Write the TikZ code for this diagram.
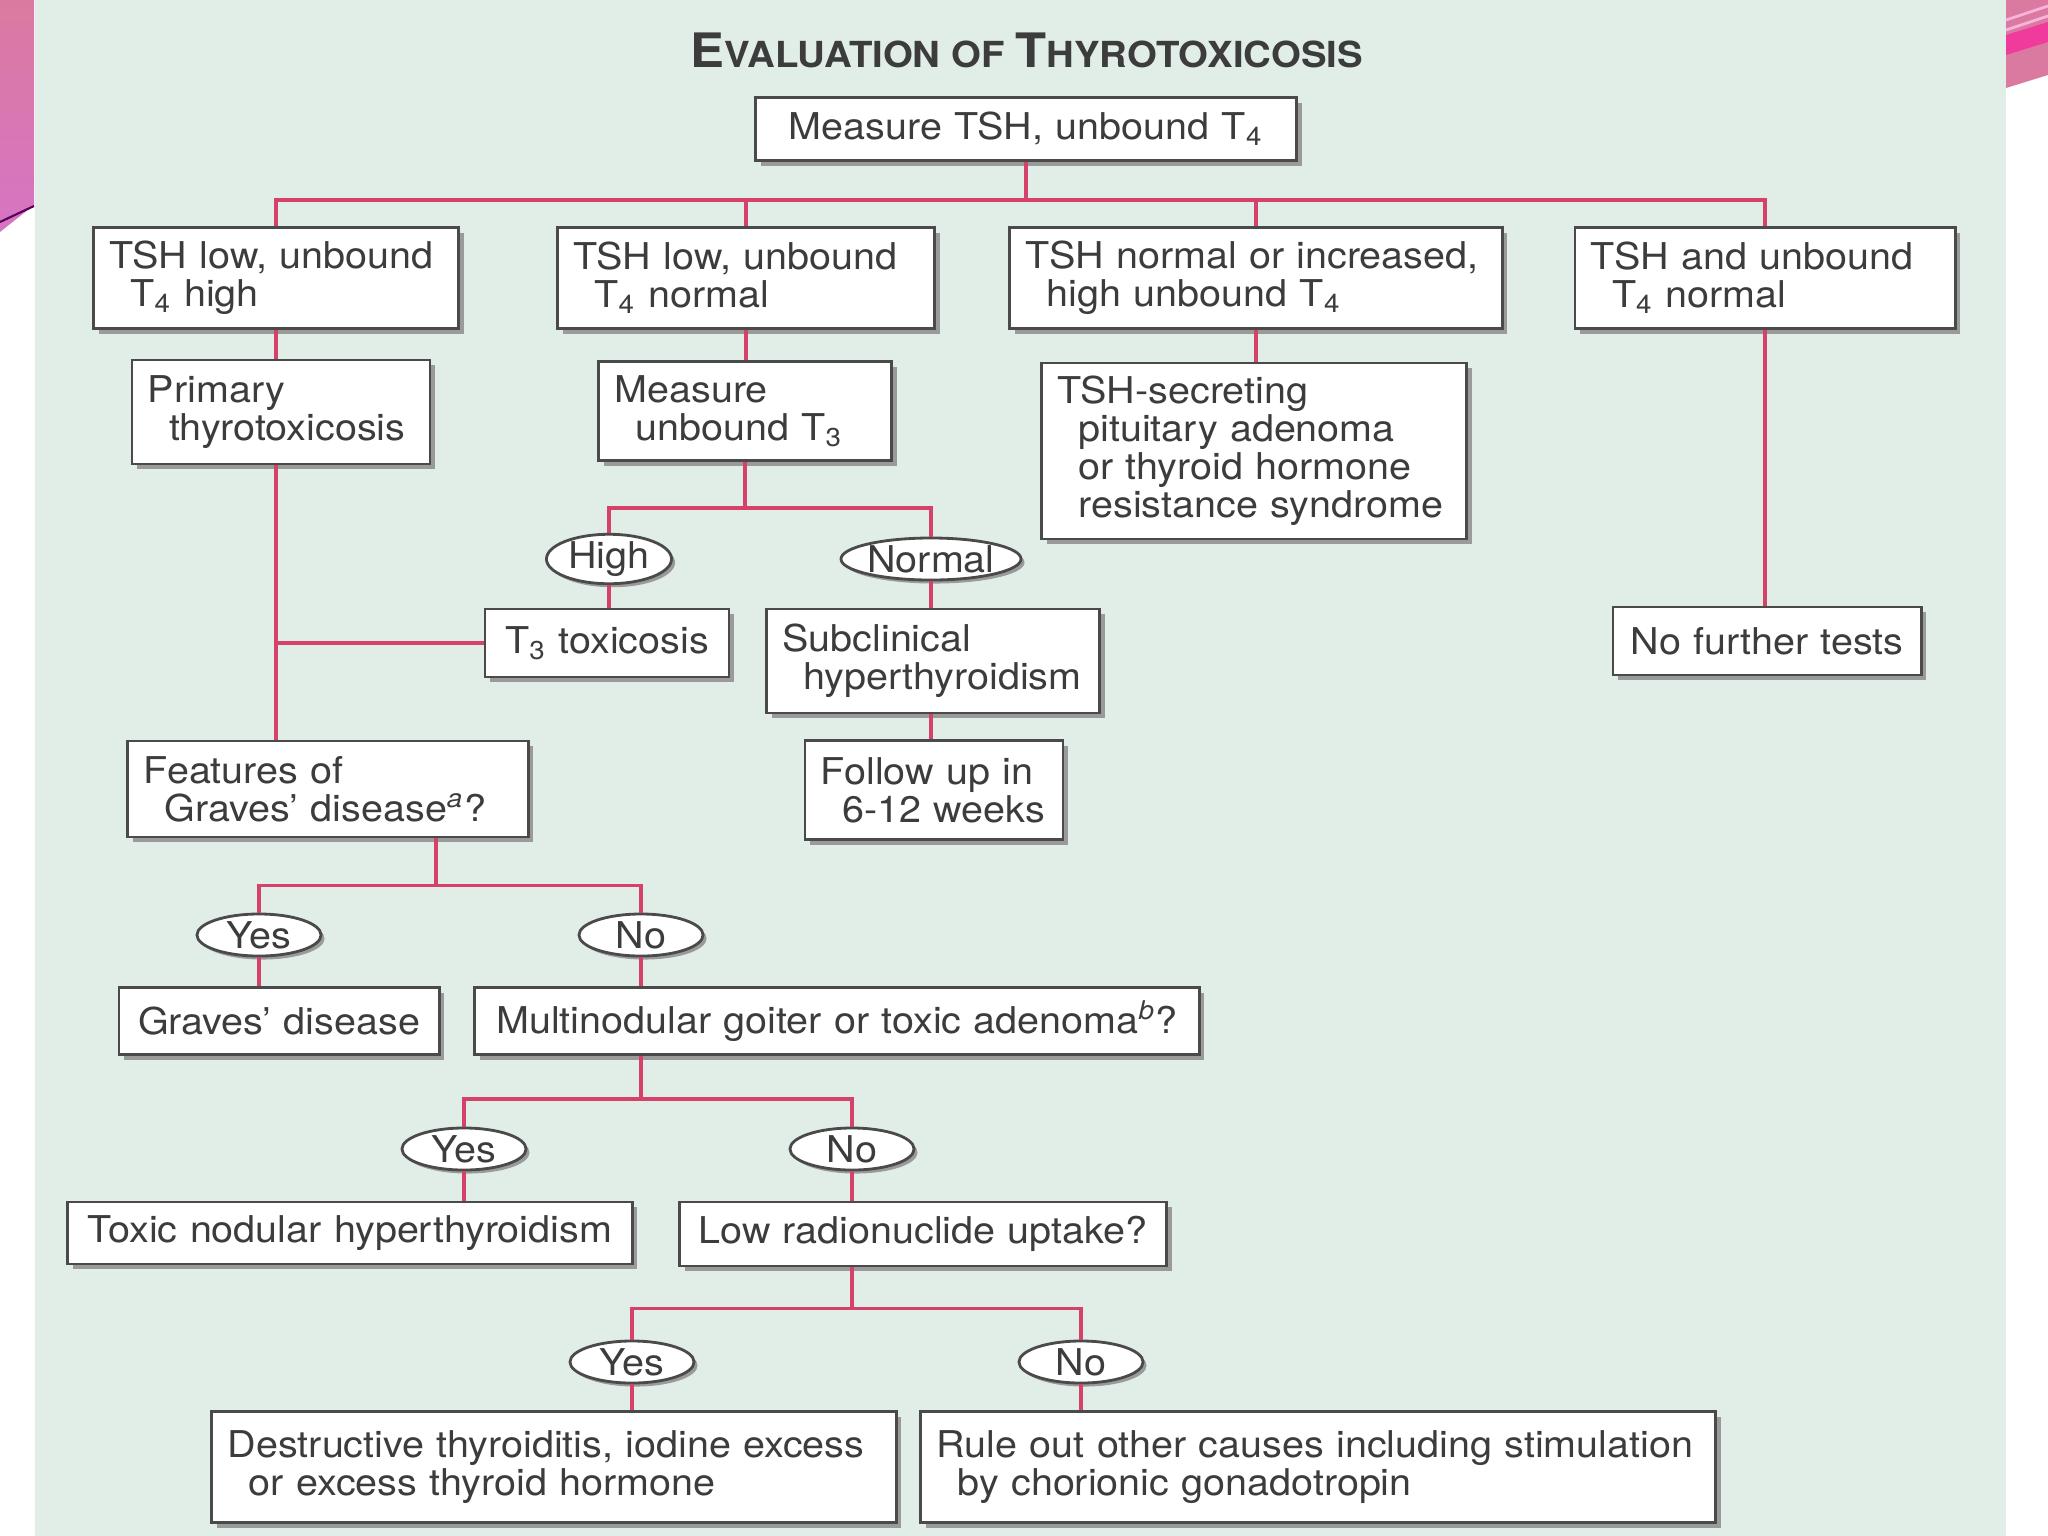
\documentclass[tikz,border=0pt]{standalone}
\usepackage{fontspec}
\setmainfont{TeX Gyre Heros}[FakeStretch=1.07]
\usepackage{tikz}
\usetikzlibrary{shapes.geometric,shadows}

\definecolor{panel}{HTML}{E1EEE7}
\definecolor{linkred}{HTML}{D6416A}
\definecolor{boxline}{HTML}{4A4A4A}
\definecolor{textgray}{HTML}{3C3C3C}
\definecolor{shadowgray}{HTML}{9A9A9A}
\definecolor{slidetop}{HTML}{DB7AA0}
\definecolor{slidebot}{HTML}{D674C4}
\newcommand{\ind}{\hspace*{6pt}}

\begin{document}
\begin{tikzpicture}[x=0.01cm,y=-0.01cm,
                    font=\fontsize{10.5}{10.8}\selectfont\color{textgray},
                    box/.style={draw=boxline,fill=white,line width=0.8pt,align=left,
                                inner xsep=0.16cm,inner ysep=0pt,
                                drop shadow={shadow xshift=1.5pt,shadow yshift=-1.5pt,
                                             fill=shadowgray,opacity=1}},
                    answer/.style={ellipse,draw=boxline,fill=white,line width=0.8pt,
                                   inner sep=0pt,minimum height=0.42cm,minimum width=#1,
                                   drop shadow={shadow xshift=1pt,shadow yshift=-1pt,
                                                fill=shadowgray,opacity=1}},
                    answer/.default=1.24cm,
                    link/.style={draw=linkred,line width=1.1pt}]
  \useasboundingbox (0,0) rectangle (2048,1536);
  \fill[white] (0,0) rectangle (2048,1536);
  \fill[panel] (35,0) rectangle (2006,1536);
  % slide corners
  \shade[top color=slidetop,bottom color=slidebot]
        (0,0) -- (34,0) -- (34,205) -- (0,232) -- cycle;
  \draw[violet!70!black,line width=0.6pt] (34,206) -- (0,222);
  \fill[slidetop] (2006,0) -- (2048,0) -- (2048,75) -- (2006,88) -- cycle;
  \fill[magenta!70!pink] (2006,35) -- (2048,22) -- (2048,42) -- (2006,55) -- cycle;
  \draw[white!70!magenta,line width=0.8pt] (2006,20) -- (2048,6) (2006,30) -- (2048,16);

  \node (title) at (1027,50) {\bfseries\fontsize{13.5}{14}\selectfont E\fontsize{10.2}{11}\selectfont VALUATION OF \fontsize{13.5}{14}\selectfont T\fontsize{10.2}{11}\selectfont HYROTOXICOSIS};

  \node[box,align=center,text width=5.09cm,minimum height=0.63cm] (measure)   at (1026,129)  {Measure TSH, unbound T\textsubscript{4}};

  \node[box,text width=3.33cm,minimum height=1.01cm] (lowhigh)   at (276,278)   {TSH low, unbound\\\ind T\textsubscript{4} high};
  \node[box,text width=3.45cm,minimum height=1.01cm] (lownorm)   at (746,278)   {TSH low, unbound\\\ind T\textsubscript{4} normal};
  \node[box,text width=4.60cm,minimum height=1.01cm] (normhigh)  at (1256,278)  {TSH normal or increased,\\\ind high unbound T\textsubscript{4}};
  \node[box,text width=3.48cm,minimum height=1.01cm] (bothnorm)  at (1765,278)  {TSH and unbound\\\ind T\textsubscript{4} normal};

  \node[box,text width=2.66cm,minimum height=1.04cm] (primary)   at (281,412)   {Primary\\\ind thyrotoxicosis};
  \node[box,text width=2.61cm,minimum height=0.99cm] (measthree) at (745,411)   {Measure\\\ind unbound T\textsubscript{3}};
  \node[box,text width=3.93cm,minimum height=1.76cm] (secreting) at (1254,451)  {TSH-secreting\\\ind pituitary adenoma\\\ind or thyroid hormone\\\ind resistance syndrome};

  \node[answer=1.25cm] (high)   at (609,559) {High};
  \node[answer=1.67cm] (normal) at (931,559) {Normal};

  \node[box,align=center,text width=2.12cm,minimum height=0.68cm] (tthree)    at (607,643)   {T\textsubscript{3} toxicosis};
  \node[box,text width=3.01cm,minimum height=1.04cm] (subclin)   at (933,661)   {Subclinical\\\ind hyperthyroidism};
  \node[box,align=center,text width=2.76cm,minimum height=0.68cm] (nofurther) at (1767,641)  {No further tests};
  \node[box,text width=2.26cm,minimum height=0.99cm] (followup)  at (934,790)   {Follow up in\\\ind 6-12 weeks};
  \node[box,text width=3.68cm,minimum height=0.96cm] (features)  at (328,789)   {Features of\\\ind Graves' disease\textsuperscript{\textit{a}}?};

  \node[answer] (yesa) at (259,935) {Yes};
  \node[answer] (noa)  at (641,935) {No};

  \node[box,align=center,text width=2.88cm,minimum height=0.67cm] (graves)  at (279,1021)  {Graves' disease};
  \node[box,align=center,text width=6.92cm,minimum height=0.67cm] (multi)   at (837,1021)  {Multinodular goiter or toxic adenoma\textsuperscript{\textit{b}}?};

  \node[answer] (yesb) at (464,1149) {Yes};
  \node[answer] (nob)  at (852,1149) {No};

  \node[box,align=center,text width=5.32cm,minimum height=0.62cm] (toxic)   at (350,1233)  {Toxic nodular hyperthyroidism};
  \node[box,align=center,text width=4.55cm,minimum height=0.64cm] (lowup)   at (923,1234)  {Low radionuclide uptake?};

  \node[answer] (yesc) at (632,1362) {Yes};
  \node[answer] (noc)  at (1081,1362) {No};

  \node[box,text width=6.52cm,minimum height=1.11cm] (destr)   at (554,1467)  {Destructive thyroiditis, iodine excess\\\ind or excess thyroid hormone};
  \node[box,text width=7.62cm,minimum height=1.11cm] (ruleout) at (1318,1467) {Rule out other causes including stimulation\\\ind by chorionic gonadotropin};

  \foreach \n in {lowhigh,lownorm,normhigh,bothnorm}
    \draw[link] (measure.south) -- ++(0,38) -| (\n.north);
  \draw[link] (lowhigh.south) -- (lowhigh.south |- primary.north);
  \draw[link] (primary.south -| lowhigh.south) -- (features.north -| lowhigh.south);
  \draw[link] (tthree.west) -- (tthree.west -| lowhigh.south);
  \draw[link] (lownorm.south) -- (lownorm.south |- measthree.north);
  \foreach \n in {high,normal}
    \draw[link] (measthree.south) -- ++(0,46) -| (\n.north);
  \draw[link] (high.south) -- (high.south |- tthree.north);
  \draw[link] (normal.south) -- (normal.south |- subclin.north);
  \draw[link] (subclin.south -| normal.south) -- (followup.north -| normal.south);
  \draw[link] (normhigh.south) -- (normhigh.south |- secreting.north);
  \draw[link] (bothnorm.south) -- (bothnorm.south |- nofurther.north);

  \foreach \n in {yesa,noa}
    \draw[link] ([xshift=1.08cm]features.south) -- ++(0,47) -| (\n.north);
  \draw[link] (yesa.south) -- (yesa.south |- graves.north);
  \draw[link] (noa.south) -- (noa.south |- multi.north);
  \foreach \n in {yesb,nob}
    \draw[link] (multi.south -| noa.south) -- ++(0,43) -| (\n.north);
  \draw[link] (yesb.south) -- (yesb.south |- toxic.north);
  \draw[link] (nob.south) -- (nob.south |- lowup.north);
  \foreach \n in {yesc,noc}
    \draw[link] (lowup.south -| nob.south) -- ++(0,41) -| (\n.north);
  \draw[link] (yesc.south) -- (yesc.south |- destr.north);
  \draw[link] (noc.south) -- (noc.south |- ruleout.north);

\end{tikzpicture}
\end{document}
